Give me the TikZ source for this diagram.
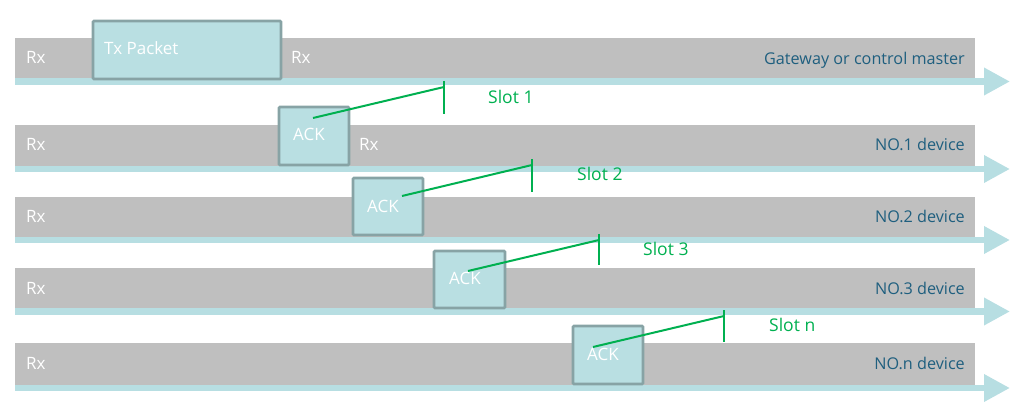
\documentclass[tikz,border=0pt]{standalone}
\usepackage{fontspec}
\setmainfont{Open Sans}
\usetikzlibrary{arrows.meta}
\definecolor{bargray}{HTML}{BFBFBF}
\definecolor{flowblue}{HTML}{B7DEE2}
\definecolor{boxfill}{HTML}{B9DFE2}
\definecolor{boxdraw}{HTML}{87A3A5}
\definecolor{devtext}{HTML}{1F5F7F}
\definecolor{slotgreen}{HTML}{00B050}
\tikzset{
  bar/.style={fill=bargray, draw=none, minimum width=960pt, inner sep=0pt},
  flow/.style={draw=flowblue, line width=6.5pt, -{Triangle[length=26pt,width=26pt,fill=flowblue]}},
  pkt/.style={fill=boxfill, draw=boxdraw, line width=2.6pt, inner sep=0pt, rounded corners=1pt},
  rx/.style={text=white, font=\fontsize{17}{19}\selectfont, inner sep=0pt},
  dev/.style={text=devtext, font=\fontsize{16.2}{18}\selectfont, inner sep=0pt, anchor=east},
  slotlbl/.style={text=slotgreen, font=\fontsize{17.5}{19}\selectfont, inner sep=0pt, anchor=west},
  slotline/.style={draw=slotgreen, line width=2pt}
}
\begin{document}
\begin{tikzpicture}[x=1pt,y=-1pt]
\useasboundingbox (0,0) rectangle (1023,412);
% bars
\node[bar, minimum height=40pt] (bar1) at (495,58) {};
\node[bar, minimum height=41pt] (bar2) at (495,145.5) {};
\node[bar, minimum height=40pt] (bar3) at (495,217) {};
\node[bar, minimum height=40pt] (bar4) at (495,288) {};
\node[bar, minimum height=42pt] (bar5) at (495,364) {};
% time lines
\coordinate (l1s) at (15,81.5); \coordinate (l1e) at (1010,81.5);
\coordinate (l2s) at (15,169); \coordinate (l2e) at (1010,169);
\coordinate (l3s) at (15,240); \coordinate (l3e) at (1010,240);
\coordinate (l4s) at (15,311.5); \coordinate (l4e) at (1010,311.5);
\coordinate (l5s) at (15,388); \coordinate (l5e) at (1010,388);
\draw[flow] (l1s) -- (l1e);
\draw[flow] (l2s) -- (l2e);
\draw[flow] (l3s) -- (l3e);
\draw[flow] (l4s) -- (l4e);
\draw[flow] (l5s) -- (l5e);
% packets
\node[pkt, minimum width=188pt, minimum height=58pt] (tx) at (187,50) {};
\node[rx, anchor=west] (txl) at (104,48) {Tx Packet};
\node[pkt, minimum width=70pt, minimum height=58pt] (ack1) at (314,136) {};
\node[pkt, minimum width=70pt, minimum height=57pt] (ack2) at (388,206.5) {};
\node[pkt, minimum width=71pt, minimum height=57pt] (ack3) at (469.5,279.5) {};
\node[pkt, minimum width=70pt, minimum height=58pt] (ackn) at (608,355) {};
\node[rx] (ack1l) at (309,134) {ACK};
\node[rx] (ack2l) at (383,206) {ACK};
\node[rx] (ack3l) at (465,278) {ACK};
\node[rx] (acknl) at (603,354) {ACK};
% Rx labels
\node[rx, anchor=west] (rx1) at (26,57) {Rx};
\node[rx, anchor=west] (rx1b) at (291,57) {Rx};
\node[rx, anchor=west] (rx2) at (26,144) {Rx};
\node[rx, anchor=west] (rx2b) at (359,144) {Rx};
\node[rx, anchor=west] (rx3) at (26,216) {Rx};
\node[rx, anchor=west] (rx4) at (26,288) {Rx};
\node[rx, anchor=west] (rx5) at (26,363) {Rx};
% device labels
\node[dev] (d0) at (965,60) {Gateway or control master};
\node[dev] (d1) at (965,144) {NO.1 device};
\node[dev] (d2) at (965,216) {NO.2 device};
\node[dev] (d3) at (965,288) {NO.3 device};
\node[dev] (dn) at (965,363) {NO.n device};
% slots
\coordinate (t1a) at (444,81); \coordinate (t1b) at (444,114); \coordinate (t1m) at (444,87);
\coordinate (t2a) at (532,159); \coordinate (t2b) at (532,192); \coordinate (t2m) at (532,165);
\coordinate (t3a) at (599,234); \coordinate (t3b) at (599,265); \coordinate (t3m) at (599,240);
\coordinate (tna) at (724,310); \coordinate (tnb) at (724,342); \coordinate (tnm) at (724,316);
\coordinate (a1) at (313,118);
\coordinate (a2) at (402,196);
\coordinate (a3) at (468,271);
\coordinate (an) at (593,347);
\draw[slotline] (t1a) -- (t1b);
\draw[slotline] (t2a) -- (t2b);
\draw[slotline] (t3a) -- (t3b);
\draw[slotline] (tna) -- (tnb);
\draw[slotline] (a1) -- (t1m);
\draw[slotline] (a2) -- (t2m);
\draw[slotline] (a3) -- (t3m);
\draw[slotline] (an) -- (tnm);
\node[slotlbl] (s1) at (488,97) {Slot 1};
\node[slotlbl] (s2) at (577,174) {Slot 2};
\node[slotlbl] (s3) at (643,249) {Slot 3};
\node[slotlbl] (sn) at (769,325) {Slot n};
\end{tikzpicture}
\end{document}
